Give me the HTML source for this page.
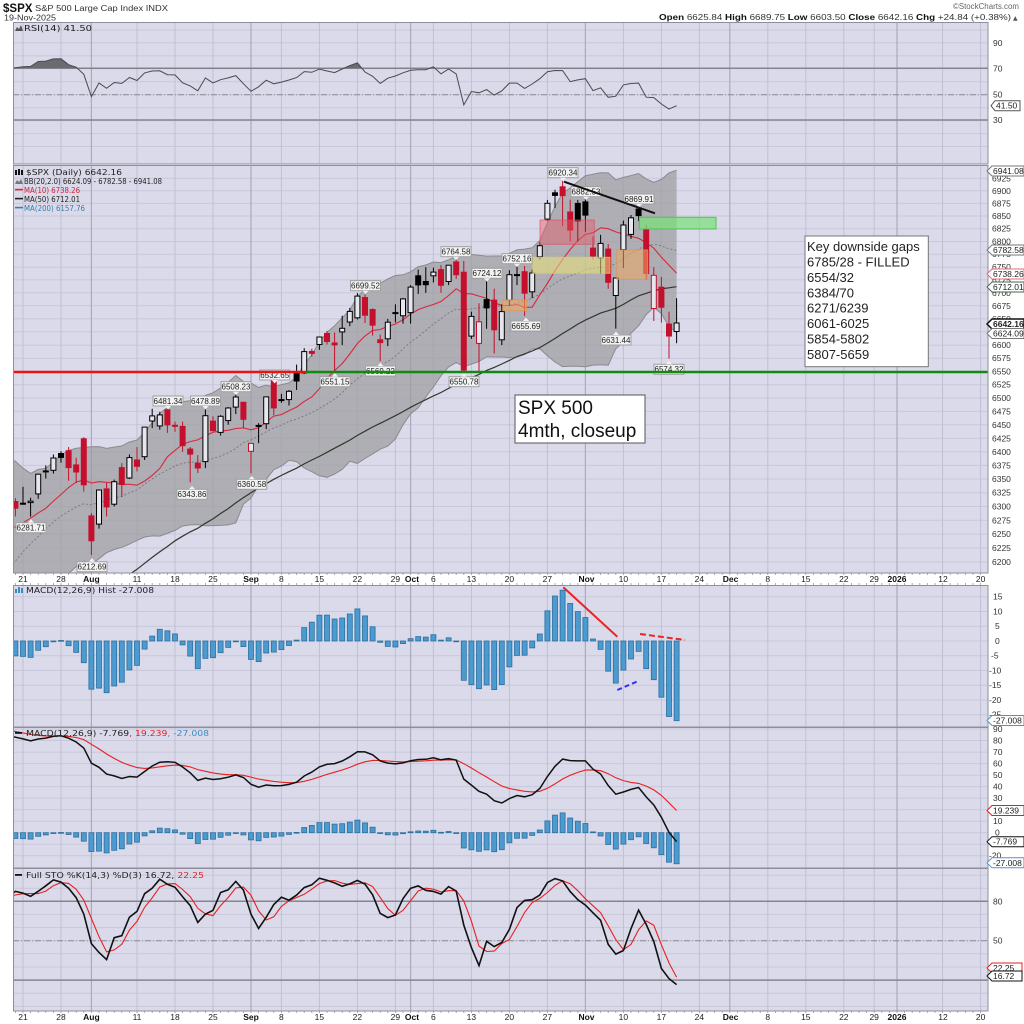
<!DOCTYPE html>
<html><head><meta charset="utf-8">
<style>
html,body{margin:0;padding:0;background:#fff;width:1024px;height:1024px;overflow:hidden}
svg{display:block;font-family:"DejaVu Sans","Liberation Sans",sans-serif;fill:#222}
.ax{font-family:"Liberation Sans",sans-serif;font-size:8.5px;fill:#333}
.xl{font-family:"Liberation Sans",sans-serif;font-size:8.5px;fill:#222;text-anchor:middle}
.xb{font-family:"Liberation Sans",sans-serif;font-size:8.5px;font-weight:bold;fill:#111;text-anchor:middle}
.pl{font-family:"Liberation Sans",sans-serif;font-size:8px;fill:#222;text-anchor:middle}
.vb{font-family:"Liberation Sans",sans-serif;font-size:8.5px;fill:#222}
.lg{font-size:8px}
.ls{font-family:"Liberation Sans",sans-serif}
</style></head><body>
<svg id="c" width="1024" height="1024" viewBox="0 0 1024 1024" xmlns="http://www.w3.org/2000/svg">
<defs>
<clipPath id="cR"><rect x="13" y="22" width="975" height="142"/></clipPath>
<clipPath id="cR70"><rect x="13" y="22" width="975" height="46.3"/></clipPath>
<clipPath id="cM"><rect x="13" y="165" width="975" height="408"/></clipPath>
<clipPath id="cH"><rect x="13" y="585" width="975" height="142"/></clipPath>
<clipPath id="cD"><rect x="13" y="727" width="975" height="141"/></clipPath>
<clipPath id="cS"><rect x="13" y="868" width="975" height="143"/></clipPath>
</defs>
<rect x="0" y="0" width="1024" height="1024" fill="#fff"/>
<!-- panel backgrounds -->
<rect x="13" y="22" width="975" height="142" fill="#dadaea"/>
<rect x="13" y="165" width="975" height="408" fill="#dadaea"/>
<rect x="13" y="585" width="975" height="142" fill="#dadaea"/>
<rect x="13" y="727" width="975" height="141" fill="#dadaea"/>
<rect x="13" y="868" width="975" height="143" fill="#dadaea"/>
<g id="grid"></g>

<!-- header -->
<text x="3" y="12" class="ls" font-size="11.5" font-weight="bold" fill="#111">$SPX</text>
<text x="35" y="11" class="ls" font-size="8" fill="#333" textLength="133" lengthAdjust="spacingAndGlyphs">S&amp;P 500 Large Cap Index INDX</text>
<text x="4" y="20.5" class="ls" font-size="8" fill="#333" textLength="52" lengthAdjust="spacingAndGlyphs">19-Nov-2025</text>
<text x="1019" y="9" text-anchor="end" class="ls" font-size="8" fill="#666" textLength="66" lengthAdjust="spacingAndGlyphs">©StockCharts.com</text>
<text x="1011" y="20" text-anchor="end" class="ls" font-size="8.5" fill="#333" textLength="352" lengthAdjust="spacingAndGlyphs"><tspan font-weight="bold" fill="#111">Open</tspan> 6625.84 <tspan font-weight="bold" fill="#111">High</tspan> 6689.75 <tspan font-weight="bold" fill="#111">Low</tspan> 6603.50 <tspan font-weight="bold" fill="#111">Close</tspan> 6642.16 <tspan font-weight="bold" fill="#111">Chg</tspan> +24.84 (+0.38%)</text>
<text x="1013" y="20" font-size="6" fill="#555">▲</text>

<!-- RSI panel static lines -->
<line x1="13" y1="68.3" x2="988" y2="68.3" stroke="#858590" stroke-width="1.5"/>
<line x1="13" y1="94.7" x2="988" y2="94.7" stroke="#8a8a96" stroke-width="1" stroke-dasharray="6,2,1,2"/>
<line x1="13" y1="120" x2="988" y2="120" stroke="#858590" stroke-width="1.5"/>
<g id="rsi"></g>
<polygon points="15,31 17,27 19,29 21,25 23,31" fill="#555"/>
<text x="24" y="31" class="lg" textLength="68" lengthAdjust="spacingAndGlyphs">RSI(14) 41.50</text>

<!-- STO static lines -->
<line x1="13" y1="901.3" x2="988" y2="901.3" stroke="#858590" stroke-width="1.5"/>
<line x1="13" y1="940.7" x2="988" y2="940.7" stroke="#8a8a96" stroke-width="1" stroke-dasharray="6,2,1,2"/>
<line x1="13" y1="980.1" x2="988" y2="980.1" stroke="#858590" stroke-width="1.5"/>

<!-- main panel series -->
<g id="bb"></g>
<g id="mas"></g>
<g id="candles"></g>

<!-- annotation rectangles -->
<rect x="540" y="220" width="54.3" height="24.3" fill="rgba(232,90,105,0.45)" stroke="rgba(220,70,90,0.6)" stroke-width="1"/>
<rect x="532.7" y="257.3" width="77.3" height="16" fill="rgba(236,226,120,0.55)" stroke="rgba(215,205,95,0.75)" stroke-width="1"/>
<rect x="616.7" y="250" width="31" height="29.3" fill="rgba(238,168,100,0.55)" stroke="rgba(225,150,80,0.8)" stroke-width="1"/>
<rect x="502.7" y="300" width="24" height="10.7" fill="rgba(238,168,100,0.55)" stroke="rgba(225,150,80,0.8)" stroke-width="1"/>
<rect x="639.3" y="217.3" width="76.7" height="11.7" fill="rgba(120,225,120,0.7)" stroke="#55c255" stroke-width="1"/>

<!-- price labels -->
<g>
<rect x="16" y="522.7" width="30" height="10" fill="#f2f2f2" stroke="#a0a0a0"/><polygon points="28,522.7 31,519 34,522.7" fill="#f2f2f2"/><text x="31" y="530.5" class="pl">6281.71</text>
<rect x="77" y="561.7" width="30" height="10" fill="#f2f2f2" stroke="#a0a0a0"/><polygon points="89,561.7 92,558 95,561.7" fill="#f2f2f2"/><text x="92" y="569.5" class="pl">6212.69</text>
<rect x="153" y="396" width="30" height="10" fill="#f2f2f2" stroke="#a0a0a0"/><polygon points="165,406 168,409.5 171,406" fill="#f2f2f2"/><text x="168" y="403.8" class="pl">6481.34</text>
<rect x="177" y="489.3" width="30" height="10" fill="#f2f2f2" stroke="#a0a0a0"/><polygon points="189,489.3 192,486 195,489.3" fill="#f2f2f2"/><text x="192" y="497.1" class="pl">6343.86</text>
<rect x="190.5" y="396" width="30" height="10" fill="#f2f2f2" stroke="#a0a0a0"/><polygon points="202.5,406 205.5,409.5 208.5,406" fill="#f2f2f2"/><text x="205.5" y="403.8" class="pl">6478.89</text>
<rect x="221" y="381.7" width="30" height="10" fill="#f2f2f2" stroke="#a0a0a0"/><polygon points="233,391.7 236,395 239,391.7" fill="#f2f2f2"/><text x="236" y="389.5" class="pl">6508.23</text>
<rect x="236.7" y="479.3" width="30" height="10" fill="#f2f2f2" stroke="#a0a0a0"/><polygon points="248.7,479.3 251.7,476 254.7,479.3" fill="#f2f2f2"/><text x="251.7" y="487.1" class="pl">6360.58</text>
<rect x="259.7" y="370" width="30" height="10" fill="#f2f2f2" stroke="#a0a0a0"/><polygon points="271.7,380 274.7,383.5 277.7,380" fill="#f2f2f2"/><text x="274.7" y="377.8" class="pl">6532.65</text>
<rect x="320" y="376.7" width="30" height="10" fill="#f2f2f2" stroke="#a0a0a0"/><polygon points="332,376.7 335,373 338,376.7" fill="#f2f2f2"/><text x="335" y="384.5" class="pl">6551.15</text>
<rect x="365.5" y="366" width="30" height="10" fill="#f2f2f2" stroke="#a0a0a0"/><polygon points="377.5,366 380.5,362.5 383.5,366" fill="#f2f2f2"/><text x="380.5" y="373.8" class="pl">6569.22</text>
<rect x="449" y="376.7" width="30" height="10" fill="#f2f2f2" stroke="#a0a0a0"/><polygon points="461,376.7 464,373 467,376.7" fill="#f2f2f2"/><text x="464" y="384.5" class="pl">6550.78</text>
<rect x="350.5" y="280.7" width="30" height="10" fill="#f2f2f2" stroke="#a0a0a0"/><polygon points="362.5,290.7 365.5,294 368.5,290.7" fill="#f2f2f2"/><text x="365.5" y="288.5" class="pl">6699.52</text>
<rect x="441" y="246.7" width="30" height="10" fill="#f2f2f2" stroke="#a0a0a0"/><polygon points="453,256.7 456,260 459,256.7" fill="#f2f2f2"/><text x="456" y="254.5" class="pl">6764.58</text>
<rect x="472" y="268.3" width="30" height="10" fill="#f2f2f2" stroke="#a0a0a0"/><polygon points="484,278.3 487,281.7 490,278.3" fill="#f2f2f2"/><text x="487" y="276.1" class="pl">6724.12</text>
<rect x="502" y="253.7" width="30" height="10" fill="#f2f2f2" stroke="#a0a0a0"/><polygon points="514,263.7 517,267 520,263.7" fill="#f2f2f2"/><text x="517" y="261.5" class="pl">6752.16</text>
<rect x="511" y="321" width="30" height="10" fill="#f2f2f2" stroke="#a0a0a0"/><polygon points="523,321 526,317.5 529,321" fill="#f2f2f2"/><text x="526" y="328.8" class="pl">6655.69</text>
<rect x="548" y="167.7" width="30" height="10" fill="#f2f2f2" stroke="#a0a0a0"/><polygon points="560,177.7 563,181 566,177.7" fill="#f2f2f2"/><text x="563" y="175.5" class="pl">6920.34</text>
<rect x="571" y="186.7" width="30" height="10" fill="#f2f2f2" stroke="#a0a0a0"/><polygon points="583,196.7 586,200 589,196.7" fill="#f2f2f2"/><text x="586" y="194.5" class="pl">6882.53</text>
<rect x="624" y="194" width="30" height="10" fill="#f2f2f2" stroke="#a0a0a0"/><polygon points="636,204 639,207.5 642,204" fill="#f2f2f2"/><text x="639" y="201.8" class="pl">6869.91</text>
<rect x="601" y="335" width="30" height="10" fill="#f2f2f2" stroke="#a0a0a0"/><polygon points="613,335 616,331.5 619,335" fill="#f2f2f2"/><text x="616" y="342.8" class="pl">6631.44</text>
<rect x="654" y="364.3" width="30" height="10" fill="#f2f2f2" stroke="#a0a0a0"/><polygon points="666,364.3 669,361 672,364.3" fill="#f2f2f2"/><text x="669" y="372.1" class="pl">6574.32</text>
</g>

<!-- horizontal support lines -->
<line x1="13" y1="372" x2="306" y2="372" stroke="#ee1111" stroke-width="2.5"/>
<line x1="306" y1="372" x2="988" y2="372" stroke="#128a12" stroke-width="2.5"/>
<!-- trend line -->
<line x1="564" y1="181.7" x2="655" y2="213.3" stroke="#111" stroke-width="2"/>

<!-- text boxes -->
<rect x="515" y="395" width="130" height="48" fill="#fff" stroke="#555" stroke-width="1"/>
<text x="518" y="414" class="ls" font-size="19" fill="#111">SPX 500</text>
<text x="518" y="437" class="ls" font-size="19" fill="#111">4mth, closeup</text>

<rect x="805" y="236" width="123.3" height="130.7" fill="#fff" stroke="#777" stroke-width="1"/>
<g class="ls" font-size="13" fill="#222">
<text x="807" y="251.2">Key downside gaps</text>
<text x="807" y="266.6">6785/28 - FILLED</text>
<text x="807" y="282">6554/32</text>
<text x="807" y="297.3">6384/70</text>
<text x="807" y="312.7">6271/6239</text>
<text x="807" y="328">6061-6025</text>
<text x="807" y="343.4">5854-5802</text>
<text x="807" y="358.8">5807-5659</text>
</g>

<!-- main legend -->
<rect x="15" y="170" width="2" height="5" fill="#111"/><rect x="18" y="169" width="2" height="6" fill="#111"/><rect x="21" y="170" width="2" height="5" fill="#111"/>
<text x="26" y="175" class="lg" font-size="8.5" textLength="96" lengthAdjust="spacingAndGlyphs">$SPX (Daily) 6642.16</text>
<polygon points="15,184 17,180 19,182 21,179 23,184" fill="#777"/>
<text x="24" y="184" class="lg" font-size="7.5" textLength="138" lengthAdjust="spacingAndGlyphs">BB(20,2.0) 6624.09 - 6782.58 - 6941.08</text>
<rect x="15" y="188.8" width="8" height="1.6" fill="#e0283c"/>
<text x="24" y="193" class="lg" font-size="7.5" fill="#d8203a" textLength="56" lengthAdjust="spacingAndGlyphs">MA(10) 6738.26</text>
<rect x="15" y="197.8" width="8" height="1.6" fill="#222"/>
<text x="24" y="202" class="lg" font-size="7.5" fill="#222" textLength="56" lengthAdjust="spacingAndGlyphs">MA(50) 6712.01</text>
<rect x="15" y="206.8" width="8" height="1.6" fill="#3a7fa8"/>
<text x="24" y="211" class="lg" font-size="7.5" fill="#3a7fa8" textLength="61" lengthAdjust="spacingAndGlyphs">MA(200) 6157.76</text>

<!-- MACD hist panel -->
<g id="hist"></g>
<line x1="563.3" y1="587.3" x2="617.3" y2="636.7" stroke="#ee2222" stroke-width="2"/>
<line x1="640" y1="634" x2="685" y2="640" stroke="#ee2222" stroke-width="2" stroke-dasharray="6,3"/>
<line x1="617.3" y1="690" x2="638.3" y2="681" stroke="#3333ee" stroke-width="2" stroke-dasharray="5,3"/>
<rect x="15" y="589" width="2" height="4" fill="#3c8cc4"/><rect x="18" y="587" width="2" height="6" fill="#3c8cc4"/><rect x="21" y="588" width="2" height="5" fill="#3c8cc4"/>
<text x="26" y="593" class="lg" textLength="128" lengthAdjust="spacingAndGlyphs">MACD(12,26,9) Hist -27.008</text>

<!-- MACD panel -->
<g id="macd"></g>
<rect x="15" y="732" width="7" height="1.8" fill="#111"/>
<text x="26" y="736" class="lg" textLength="183" lengthAdjust="spacingAndGlyphs">MACD(12,26,9) -7.769<tspan fill="#e02020">, 19.239</tspan><tspan fill="#3c8cc4">, -27.008</tspan></text>

<!-- STO panel -->
<g id="sto"></g>
<rect x="15" y="874" width="7" height="1.8" fill="#111"/>
<text x="26" y="878" class="lg" textLength="178" lengthAdjust="spacingAndGlyphs">Full STO %K(14,3) %D(3) 16.72, <tspan fill="#e02020">22.25</tspan></text>

<!-- axis strips -->
<rect x="13" y="573" width="975" height="12" fill="#fff"/>
<rect x="13" y="1011" width="975" height="13" fill="#fff"/>
<g id="ticks"></g>
<g>
<text x="23" y="582" class="xl">21</text><text x="61" y="582" class="xl">28</text><text x="91.4" y="582" class="xb">Aug</text><text x="137" y="582" class="xl">11</text><text x="175" y="582" class="xl">18</text><text x="213" y="582" class="xl">25</text><text x="251" y="582" class="xb">Sep</text><text x="281.4" y="582" class="xl">8</text><text x="319.4" y="582" class="xl">15</text><text x="357.4" y="582" class="xl">22</text><text x="395.4" y="582" class="xl">29</text><text x="412" y="582" class="xb">Oct</text><text x="433.4" y="582" class="xl">6</text><text x="471.4" y="582" class="xl">13</text><text x="509.4" y="582" class="xl">20</text><text x="547.4" y="582" class="xl">27</text><text x="586.5" y="582" class="xb">Nov</text><text x="623.4" y="582" class="xl">10</text><text x="661.4" y="582" class="xl">17</text><text x="699.4" y="582" class="xl">24</text><text x="730.5" y="582" class="xb">Dec</text><text x="767.8" y="582" class="xl">8</text><text x="805.8" y="582" class="xl">15</text><text x="843.8" y="582" class="xl">22</text><text x="874.2" y="582" class="xl">29</text><text x="897" y="582" class="xb">2026</text><text x="943" y="582" class="xl">12</text><text x="980.6" y="582" class="xl">20</text>
</g>
<g>
<text x="23" y="1020" class="xl">21</text><text x="61" y="1020" class="xl">28</text><text x="91.4" y="1020" class="xb">Aug</text><text x="137" y="1020" class="xl">11</text><text x="175" y="1020" class="xl">18</text><text x="213" y="1020" class="xl">25</text><text x="251" y="1020" class="xb">Sep</text><text x="281.4" y="1020" class="xl">8</text><text x="319.4" y="1020" class="xl">15</text><text x="357.4" y="1020" class="xl">22</text><text x="395.4" y="1020" class="xl">29</text><text x="412" y="1020" class="xb">Oct</text><text x="433.4" y="1020" class="xl">6</text><text x="471.4" y="1020" class="xl">13</text><text x="509.4" y="1020" class="xl">20</text><text x="547.4" y="1020" class="xl">27</text><text x="586.5" y="1020" class="xb">Nov</text><text x="623.4" y="1020" class="xl">10</text><text x="661.4" y="1020" class="xl">17</text><text x="699.4" y="1020" class="xl">24</text><text x="730.5" y="1020" class="xb">Dec</text><text x="767.8" y="1020" class="xl">8</text><text x="805.8" y="1020" class="xl">15</text><text x="843.8" y="1020" class="xl">22</text><text x="874.2" y="1020" class="xl">29</text><text x="897" y="1020" class="xb">2026</text><text x="943" y="1020" class="xl">12</text><text x="980.6" y="1020" class="xl">20</text>
</g>

<!-- panel frames -->
<g fill="none" stroke="#8e8e9e" stroke-width="1">
<rect x="13.5" y="22.5" width="974.5" height="141.5"/>
<rect x="13.5" y="165.5" width="974.5" height="407.5"/>
<rect x="13.5" y="585.5" width="974.5" height="141.5"/>
<rect x="13.5" y="727.5" width="974.5" height="140.5"/>
<rect x="13.5" y="868.5" width="974.5" height="142.5"/>
</g>

<!-- right axis: RSI -->
<g>
<text x="993" y="45.9" class="ax">90</text>
<text x="993" y="71.3" class="ax">70</text>
<text x="993" y="97.7" class="ax">50</text>
<text x="993" y="123" class="ax">30</text>
</g>
<!-- right axis: main -->
<g>
<text x="992" y="181.3" class="ax">6925</text>
<text x="992" y="193.8" class="ax">6900</text>
<text x="992" y="206.4" class="ax">6875</text>
<text x="992" y="219" class="ax">6850</text>
<text x="992" y="231.7" class="ax">6825</text>
<text x="992" y="244.5" class="ax">6800</text>
<text x="992" y="257.2" class="ax">6775</text>
<text x="992" y="270.1" class="ax">6750</text>
<text x="992" y="282.9" class="ax">6725</text>
<text x="992" y="295.9" class="ax">6700</text>
<text x="992" y="308.8" class="ax">6675</text>
<text x="992" y="321.9" class="ax">6650</text>
<text x="992" y="334.9" class="ax">6625</text>
<text x="992" y="348.1" class="ax">6600</text>
<text x="992" y="361.2" class="ax">6575</text>
<text x="992" y="374.4" class="ax">6550</text>
<text x="992" y="387.7" class="ax">6525</text>
<text x="992" y="401" class="ax">6500</text>
<text x="992" y="414.4" class="ax">6475</text>
<text x="992" y="427.8" class="ax">6450</text>
<text x="992" y="441.3" class="ax">6425</text>
<text x="992" y="454.8" class="ax">6400</text>
<text x="992" y="468.4" class="ax">6375</text>
<text x="992" y="482" class="ax">6350</text>
<text x="992" y="495.7" class="ax">6325</text>
<text x="992" y="509.5" class="ax">6300</text>
<text x="992" y="523.3" class="ax">6275</text>
<text x="992" y="537.1" class="ax">6250</text>
<text x="992" y="551" class="ax">6225</text>
<text x="992" y="565" class="ax">6200</text>
</g>
<!-- right axis: hist -->
<g>
<text x="993" y="599.7" class="ax">15</text>
<text x="993" y="614.5" class="ax">10</text>
<text x="995" y="629.2" class="ax">5</text>
<text x="995" y="644" class="ax">0</text>
<text x="991" y="658.7" class="ax">-5</text>
<text x="989" y="673.5" class="ax">-10</text>
<text x="989" y="688.2" class="ax">-15</text>
<text x="989" y="703" class="ax">-20</text>
<text x="989" y="717.7" class="ax">-25</text>
</g>
<!-- right axis: macd -->
<g>
<text x="993" y="732" class="ax">90</text>
<text x="993" y="743.5" class="ax">80</text>
<text x="993" y="755.1" class="ax">70</text>
<text x="993" y="766.6" class="ax">60</text>
<text x="993" y="778.1" class="ax">50</text>
<text x="993" y="789.6" class="ax">40</text>
<text x="993" y="801.1" class="ax">30</text>
<text x="993" y="824.2" class="ax">10</text>
<text x="995" y="835.7" class="ax">0</text>
<text x="989" y="858.7" class="ax">-20</text>
</g>
<!-- right axis: sto -->
<text x="993" y="904.3" class="ax">80</text>
<text x="993" y="943.7" class="ax">50</text>

<!-- value boxes -->
<g>
<polygon points="987,171 992,166 1024,166 1024,176 992,176" fill="#fff" stroke="#777"/><text x="993" y="174" class="vb">6941.08</text>
<polygon points="987,250 992,245 1024,245 1024,255 992,255" fill="#fff" stroke="#777"/><text x="993" y="253" class="vb">6782.58</text>
<polygon points="987,274 992,269 1024,269 1024,279 992,279" fill="#fff" stroke="#e06a7a"/><text x="993" y="277" class="vb">6738.26</text>
<polygon points="987,287 992,282 1024,282 1024,292 992,292" fill="#fff" stroke="#4a6a4a"/><text x="993" y="290" class="vb">6712.01</text>
<polygon points="987,324 992,319 1024,319 1024,329 992,329" fill="#fff" stroke="#111" stroke-width="1.5"/><text x="993" y="327" class="vb" font-weight="bold">6642.16</text>
<polygon points="987,333.5 992,328.5 1024,328.5 1024,338.5 992,338.5" fill="#fff" stroke="#777"/><text x="993" y="336.5" class="vb">6624.09</text>
<polygon points="991,105.7 995,100.7 1020,100.7 1020,110.7 995,110.7" fill="#fff" stroke="#555"/><text x="996" y="108.7" class="vb">41.50</text>
<polygon points="987,720.5 992,715.5 1024,715.5 1024,725.5 992,725.5" fill="#fff" stroke="#5a90c2"/><text x="993" y="723.5" class="vb">-27.008</text>
<polygon points="987,810.5 992,805.5 1024,805.5 1024,815.5 992,815.5" fill="#fff" stroke="#e02020"/><text x="993" y="813.5" class="vb">19.239</text>
<polygon points="987,841.7 992,836.7 1024,836.7 1024,846.7 992,846.7" fill="#fff" stroke="#111"/><text x="993" y="844.7" class="vb">-7.769</text>
<polygon points="987,862.8 992,857.8 1024,857.8 1024,867.8 992,867.8" fill="#fff" stroke="#5a90c2"/><text x="993" y="865.8" class="vb">-27.008</text>
<polygon points="987,968 992,963 1022,963 1022,973 992,973" fill="#fff" stroke="#e02020"/><text x="993" y="971" class="vb">22.25</text>
<polygon points="987,976 992,971 1022,971 1022,981 992,981" fill="#fff" stroke="#111"/><text x="993" y="979" class="vb">16.72</text>
</g>
</svg>
<script>
(function(){
var NS='http://www.w3.org/2000/svg';
function add(g,tag,a){var e=document.createElementNS(NS,tag);for(var k in a)e.setAttribute(k,a[k]);g.appendChild(e);return e;}
function P(arr){return arr.map(function(p){return p[0].toFixed(1)+','+p[1].toFixed(1);}).join(' ');}
var pre=[5158,5288,5376,5485,5525,5529,5560,5569,5604,5687,5650,5607,5631,5664,5660,5844,5886,5892,5916,5958,5963,5940,5845,5842,5802,5922,5889,5912,5912,5936,5970,5971,5939,6000,6006,6039,6022,6045,5977,6033,5983,5981,5967,6025,6092,6092,6141,6173,6205,6199,6227,6279,6230,6226,6263,6280,6259,6269,6244,6264,6297.36];
var dat=[
[6309,6315,6282,6296.79],[6306,6336,6303,6305.60],[6307,6316,6281.71,6309.62],[6323,6360,6314,6358.91],[6365,6375,6351,6363.35],[6366,6395,6360,6388.64],
[6397,6401,6380,6389.77],[6402,6409,6347,6370.86],[6376,6389,6343,6362.90],[6424,6427,6327,6339.39],[6283,6288,6212.69,6238.01],
[6268,6330,6260,6329.94],[6332,6343,6282,6299.19],[6304,6349,6300,6345.06],[6371,6379,6317,6340.00],[6352,6395,6350,6389.45],
[6385,6409,6364,6373.45],[6391,6446,6385,6445.76],[6457,6480,6444,6466.58],[6448,6474,6441,6468.54],[6478,6481.34,6435,6449.80],
[6448,6456,6437,6449.15],[6447,6456,6400,6411.37],[6405,6409,6343.86,6395.78],[6379,6394,6361,6370.17],[6382,6478.89,6370,6466.91],
[6457,6466,6438,6439.32],[6436,6468,6430,6465.94],[6458,6483,6450,6481.40],[6483,6508.23,6470,6501.86],[6492,6493,6444,6460.26],
[6401,6416,6360.58,6415.54],[6449,6453,6416,6448.26],[6452,6502,6442,6502.08],[6532,6532.65,6468,6481.50],
[6497,6508,6491,6495.15],[6497,6515,6486,6512.61],[6546,6563,6515,6532.04],[6547,6594,6545,6587.47],[6588,6593,6578,6584.29],
[6601,6616,6591,6615.28],[6622,6627,6601,6606.76],[6604,6624,6551.15,6600.35],[6625,6656,6600,6631.96],[6644,6671,6636,6664.36],
[6652,6699.52,6649,6693.75],[6691,6697,6642,6656.92],[6668,6670,6618,6637.97],[6610,6620,6569.22,6604.72],[6612,6650,6598,6643.70],
[6662,6678,6643,6661.21],[6656,6690,6641,6688.46],[6662,6715,6641,6711.20],[6733,6745,6698,6715.35],[6722,6750,6700,6715.79],
[6733,6749,6720,6740.28],[6745,6754,6700,6714.59],[6722,6754,6715,6753.72],[6760,6764.58,6727,6735.11],[6740,6762,6550.78,6552.51],
[6617,6664,6612,6654.72],[6603,6680,6550.9,6644.31],[6687,6724.12,6631,6671.06],[6686,6708,6584,6629.07],[6610,6678,6600,6664.01],
[6686,6744,6675,6735.13],[6734,6752.16,6715,6735.35],[6741,6752,6655.69,6699.40],[6702,6745,6690,6738.44],[6770,6799,6765,6791.69],
[6844,6882,6840,6875.16],[6896,6902,6866,6890.89],[6908,6920.34,6830,6890.59],[6858,6882.53,6800,6822.34],[6875,6882,6800,6840.20],
[6878,6887,6819,6851.97],[6787,6810,6765,6771.55],[6768,6813,6737,6796.29],[6785,6795,6708,6720.32],[6695,6729,6631.44,6728.80],
[6784,6841,6748,6832.43],[6814,6852,6805,6846.61],[6864,6869.91,6840,6850.92],[6824,6832,6725,6737.49],[6670,6750,6646,6734.11],
[6711,6731,6643,6672.41],[6640,6664,6574.32,6617.32],[6625.84,6689.75,6603.50,6642.16]];
var O=[],H=[],L=[],C=[];
pre.forEach(function(c,i){var o=i?pre[i-1]:c;O.push(o);H.push(Math.max(o,c)*1.003);L.push(Math.min(o,c)*0.997);C.push(c);});
dat.forEach(function(r){O.push(r[0]);H.push(r[1]);L.push(r[2]);C.push(r[3]);});
var S=pre.length,N=C.length;
function X(i){return 23+7.6*(i-S-1);}
function PY(p){return 562-3470*Math.log(p/6200);}
function RY(v){return 94.7-(v-50)*1.295;}
function HY(v){return 641-v*2.95;}
function MY(v){return 832.7-v*1.152;}
function SY(v){return 940.7-(v-50)*1.313;}
function DX(d){return 23+7.6*d;}

var g=document.getElementById('grid');
var panels=[[22,164],[165,573],[585,727],[727,868],[868,1011]];
function hl(y){add(g,'line',{x1:13,y1:y.toFixed(1),x2:988,y2:y.toFixed(1),stroke:'#c8c8da','stroke-width':1});}
for(var v=10;v<=100;v+=10){var y=RY(v);if(y>23&&y<163)hl(y);}
for(var p=6200;p<=6925;p+=25)hl(PY(p));
for(var v=-25;v<=15;v+=5)hl(HY(v));
for(var v=-20;v<=90;v+=10)hl(MY(v));
for(var v=0;v<=100;v+=10){var y=SY(v);if(y>869&&y<1010)hl(y);}
var vd=[0,5,15,20,25,34,39,44,49,54,59,64,69,79,84,89,98,103,108,112,121,126];
var md=[9,30,51,74,93,115];
panels.forEach(function(pp){
 vd.forEach(function(d){add(g,'line',{x1:DX(d).toFixed(1),y1:pp[0],x2:DX(d).toFixed(1),y2:pp[1],stroke:'#c0c0d3','stroke-width':1});});
 md.forEach(function(d){add(g,'line',{x1:DX(d).toFixed(1),y1:pp[0],x2:DX(d).toFixed(1),y2:pp[1],stroke:'#aaaabf','stroke-width':1.2});});
});
var tk=document.getElementById('ticks');
for(var d=-1;d<=127;d++){var x=DX(d);if(x<14||x>987)continue;
 add(tk,'line',{x1:x.toFixed(1),y1:573,x2:x.toFixed(1),y2:575,stroke:'#999','stroke-width':0.8});
 add(tk,'line',{x1:x.toFixed(1),y1:583,x2:x.toFixed(1),y2:585,stroke:'#999','stroke-width':0.8});
 add(tk,'line',{x1:x.toFixed(1),y1:1011,x2:x.toFixed(1),y2:1013,stroke:'#999','stroke-width':0.8});}

var up=[],lo=[],mid=[],m10=[],m50=[];
for(var i=S-1;i<N;i++){
 var s=0,k;for(k=i-19;k<=i;k++)s+=C[k];var m=s/20;var vv=0;for(k=i-19;k<=i;k++)vv+=(C[k]-m)*(C[k]-m);var sd=Math.sqrt(vv/20);
 up.push([X(i),PY(m+2*sd)]);lo.push([X(i),PY(m-2*sd)]);mid.push([X(i),PY(m)]);
 var s10=0;for(k=i-9;k<=i;k++)s10+=C[k];m10.push([X(i),PY(s10/10)]);
 var s50=0;for(k=i-49;k<=i;k++)s50+=C[k];m50.push([X(i),PY(s50/50)]);
}
var bb=document.getElementById('bb');bb.setAttribute('clip-path','url(#cM)');
add(bb,'polygon',{points:P(up.concat(lo.slice().reverse())),fill:'#9c9ca0','fill-opacity':0.72,stroke:'none'});
add(bb,'polyline',{points:P(up),fill:'none',stroke:'#8a8a90','stroke-width':1});
add(bb,'polyline',{points:P(lo),fill:'none',stroke:'#8a8a90','stroke-width':1});
var ma=document.getElementById('mas');ma.setAttribute('clip-path','url(#cM)');
add(ma,'polyline',{points:P(mid),fill:'none',stroke:'#7a7a80','stroke-width':1,'stroke-dasharray':'2,2'});
add(ma,'polyline',{points:P(m50),fill:'none',stroke:'#2c3a2c','stroke-width':1.2});
add(ma,'polyline',{points:P(m10),fill:'none',stroke:'#d8283e','stroke-width':1.1});

var cg=document.getElementById('candles');cg.setAttribute('clip-path','url(#cM)');
for(var i=S;i<N;i++){
 var x=X(i),o=O[i],h=H[i],l=L[i],c=C[i],pc=C[i-1];
 var col=c<pc?'#c4102c':'#000';var filled=c<o;
 add(cg,'line',{x1:x.toFixed(1),y1:PY(h).toFixed(1),x2:x.toFixed(1),y2:PY(l).toFixed(1),stroke:col,'stroke-width':1});
 var yt=PY(Math.max(o,c)),yb=PY(Math.min(o,c));var hh=Math.max(1,yb-yt);
 add(cg,'rect',{x:(x-2.5).toFixed(1),y:yt.toFixed(1),width:5,height:hh.toFixed(1),fill:filled?col:'#e6e6ef',stroke:col,'stroke-width':1});
}

var rsi=[];var ag=0,al=0;
for(var k=1;k<=14;k++){var dd=C[k]-C[k-1];if(dd>0)ag+=dd;else al-=dd;}ag/=14;al/=14;rsi[14]=100-100/(1+ag/al);
for(var k=15;k<N;k++){var dd=C[k]-C[k-1];ag=(ag*13+Math.max(dd,0))/14;al=(al*13+Math.max(-dd,0))/14;rsi[k]=100-100/(1+ag/al);}
var rp=[];for(var i=S-1;i<N;i++)rp.push([X(i),RY(rsi[i])]);
var rg=document.getElementById('rsi');
var fillg=add(rg,'g',{'clip-path':'url(#cR70)'});
add(fillg,'polygon',{points:P(rp.concat([[rp[rp.length-1][0],68.3],[rp[0][0],68.3]])),fill:'#6a6a70',stroke:'none'});
var lineg=add(rg,'g',{'clip-path':'url(#cR)'});
add(lineg,'polyline',{points:P(rp),fill:'none',stroke:'#4a4a50','stroke-width':1});

var e12=5290,e26=5420,sg=-140,mac=[],sig=[];
for(var i=0;i<N;i++){e12+=(C[i]-e12)*2/13;e26+=(C[i]-e26)*2/27;var mm=e12-e26;sg+=(mm-sg)*0.2;mac.push(mm);sig.push(sg);}
var hg=document.getElementById('hist');hg.setAttribute('clip-path','url(#cH)');
var dg=document.getElementById('macd');dg.setAttribute('clip-path','url(#cD)');
var mp=[],sp=[];
for(var i=S;i<N;i++){
 var hv=mac[i]-sig[i],x=X(i);
 var y0=HY(0),y1=HY(hv);
 add(hg,'rect',{x:(x-2.5).toFixed(1),y:Math.min(y0,y1).toFixed(1),width:5,height:Math.max(0.8,Math.abs(y1-y0)).toFixed(1),fill:'#4b9ad0',stroke:'#2b6f9f','stroke-width':0.8});
 var z0=MY(0),z1=MY(hv);
 add(dg,'rect',{x:(x-2.5).toFixed(1),y:Math.min(z0,z1).toFixed(1),width:5,height:Math.max(0.8,Math.abs(z1-z0)).toFixed(1),fill:'#4b9ad0',stroke:'#2b6f9f','stroke-width':0.8});
}
for(var i=S-1;i<N;i++){mp.push([X(i),MY(mac[i])]);sp.push([X(i),MY(sig[i])]);}
add(dg,'polyline',{points:P(sp),fill:'none',stroke:'#e82020','stroke-width':1.1});
add(dg,'polyline',{points:P(mp),fill:'none',stroke:'#111','stroke-width':1.5});

var rk=[],K=[],D=[];
for(var i=13;i<N;i++){var hh2=-1e9,ll=1e9;for(var k=i-13;k<=i;k++){if(H[k]>hh2)hh2=H[k];if(L[k]<ll)ll=L[k];}rk[i]=(C[i]-ll)/(hh2-ll)*100;}
for(var i=15;i<N;i++)K[i]=(rk[i]+rk[i-1]+rk[i-2])/3;
for(var i=17;i<N;i++)D[i]=(K[i]+K[i-1]+K[i-2])/3;
var kp=[],dp=[];for(var i=S-1;i<N;i++){kp.push([X(i),SY(K[i])]);dp.push([X(i),SY(D[i])]);}
var st=document.getElementById('sto');st.setAttribute('clip-path','url(#cS)');
add(st,'polyline',{points:P(dp),fill:'none',stroke:'#e82020','stroke-width':1.1});
add(st,'polyline',{points:P(kp),fill:'none',stroke:'#111','stroke-width':1.6});
})();
</script>
</body></html>
